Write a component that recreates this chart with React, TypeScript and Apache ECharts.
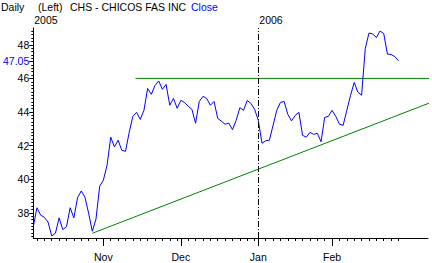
import React, { useEffect, useRef } from "react";
import * as echarts from "echarts";

// Daily closes, Oct 5 2005 .. Feb 24 2006 (trading-day index 0..99)
const closes = [
  37.17, 38.3, 37.86, 37.73, 37.45, 36.62, 36.78, 37.7, 37.0, 37.17,
  38.3, 37.7, 38.9, 39.3, 38.93, 37.98, 36.9, 37.63, 39.58, 39.94,
  40.83, 42.5, 41.92, 42.32, 41.72, 41.66, 42.79, 43.74, 43.98, 43.56,
  44.1, 45.4, 45.05, 45.58, 45.85, 45.35, 45.64, 44.4, 44.81, 44.22,
  44.69, 44.57, 44.34, 44.16, 43.33, 44.63, 44.93, 44.81, 44.4, 44.63,
  43.62, 43.45, 43.27, 43.34, 42.95, 43.5, 44.26, 44.1, 44.69, 44.51,
  44.16, 43.5, 42.14, 42.29, 42.32, 43.2, 44.1, 44.57, 44.63, 43.86,
  43.47, 43.8, 43.98, 42.61, 42.5, 42.79, 42.67, 42.73, 42.23, 43.68,
  43.74, 44.1, 43.74, 43.27, 43.21, 44.1, 44.99, 45.76, 45.17, 45.0,
  47.78, 48.7, 48.65, 48.43, 48.82, 48.67, 47.45, 47.42, 47.3, 47.05,
];

// month starts (trading-day index) and their labels
const monthIdx = [19, 40, 61, 81];
const monthLabels = ["Nov", "Dec", "Jan", "Feb"];
// year labels
const yearIdx = [0, 61];
const yearLabels = ["2005", "2006"];
// y tick labels
const yTicks = [38, 40, 42, 44, 46, 48];
// trend lines (index, price)
const supportX = [16, 108.5];
const supportY = [36.78, 44.63];
const resistX = [27.7, 108.5];
const resistY = [46, 46];
// year divider
const dividerIdx = 61;

const FONT = "Liberation Sans";
const FS = 10.5;
const TFS = 10.5;

export default function App() {
  const ref = useRef<HTMLDivElement>(null);
  useEffect(() => {
    if (!ref.current) return;
    const chart = echarts.init(ref.current, null, { renderer: "svg" });
    const lastIdx = closes.length - 1;
    const last = closes[lastIdx];

    const minorX: number[] = [];
    for (let i = monthIdx[0] - 2; i >= 0; i -= 2) minorX.push(i);
    monthIdx.forEach((m, k) => {
      const next = k + 1 < monthIdx.length ? monthIdx[k + 1] : lastIdx + 1;
      for (let i = m + 2; i < next; i += 2) minorX.push(i);
    });
    const minorY: number[] = [];
    for (let v = 36.6; v < 49; v += 0.2) minorY.push(Math.round(v * 10) / 10);

    const xMin = 0;
    const xMax = 107;
    const yMin = 36.5;
    const yMax = 49;
    const black = "#000";

    chart.setOption({
      animation: false,
      backgroundColor: "#fff",
      textStyle: { fontFamily: FONT },
      grid: { left: 30, right: 4, top: 28, bottom: 25 },
      xAxis: [
        {
          type: "value",
          min: xMin,
          max: xMax,
          position: "bottom",
          axisLine: { show: true, onZero: false, lineStyle: { color: black, width: 1 } },
          axisTick: { show: true, customValues: monthIdx, length: 8, lineStyle: { color: black } },
          axisLabel: {
            show: true,
            customValues: monthIdx,
            formatter: (v: number) => monthLabels[monthIdx.indexOf(Math.round(v))] ?? "",
            color: black,
            fontFamily: FONT,
            fontSize: FS,
            margin: 13,
          },
          splitLine: { show: false },
        },
        {
          type: "value",
          min: xMin,
          max: xMax,
          position: "bottom",
          axisLine: { show: false, onZero: false },
          axisTick: { show: true, customValues: minorX, length: 3, lineStyle: { color: black } },
          axisLabel: { show: false },
          splitLine: { show: false },
        },
        {
          type: "value",
          min: xMin,
          max: xMax,
          position: "top",
          axisLine: { show: false, onZero: false },
          axisTick: { show: false },
          axisLabel: {
            show: true,
            customValues: yearIdx,
            formatter: (v: number) => yearLabels[yearIdx.indexOf(Math.round(v))] ?? "",
            color: black,
            fontFamily: FONT,
            fontSize: FS,
            align: "left",
            margin: 3,
            padding: [0, 0, 0, 1],
          },
          splitLine: { show: false },
        },
      ],
      yAxis: [
        {
          type: "value",
          min: yMin,
          max: yMax,
          position: "left",
          axisLine: { show: true, onZero: false, lineStyle: { color: black, width: 1 } },
          axisTick: { show: true, customValues: yTicks, length: 4, lineStyle: { color: black } },
          axisLabel: {
            show: true,
            customValues: yTicks,
            color: black,
            fontFamily: FONT,
            fontSize: FS,
            margin: 4,
          },
          splitLine: { show: false },
        },
        {
          type: "value",
          min: yMin,
          max: yMax,
          position: "left",
          axisLine: { show: false, onZero: false },
          axisTick: { show: true, customValues: minorY, length: 2, lineStyle: { color: black } },
          axisLabel: { show: false },
          splitLine: { show: false },
        },
        {
          type: "value",
          min: yMin,
          max: yMax,
          position: "left",
          axisLine: { show: false, onZero: false },
          axisTick: { show: true, customValues: [last], length: 4, lineStyle: { color: black } },
          axisLabel: {
            show: true,
            customValues: [last],
            formatter: (v: number) => v.toFixed(2),
            color: "#0000ff",
            fontFamily: FONT,
            fontSize: FS,
            margin: 4,
          },
          splitLine: { show: false },
        },
      ],
      series: [
        {
          type: "line",
          xAxisIndex: 0,
          yAxisIndex: 0,
          data: closes.map((v, i) => [i, v]),
          showSymbol: false,
          symbol: "none",
          lineStyle: { color: "#0000ff", width: 1 },
          silent: true,
          z: 3,
          markLine: {
            silent: true,
            symbol: ["none", "none"],
            label: { show: false },
            lineStyle: { color: black, width: 1, type: [6, 2, 1, 2] },
            data: [{ xAxis: dividerIdx }],
          },
        },
        {
          type: "line",
          xAxisIndex: 0,
          yAxisIndex: 0,
          data: supportX.map((x, i) => [x, supportY[i]]),
          showSymbol: false,
          symbol: "none",
          clip: false,
          lineStyle: { color: "#008000", width: 1 },
          silent: true,
          z: 2,
        },
        {
          type: "line",
          xAxisIndex: 0,
          yAxisIndex: 0,
          data: resistX.map((x, i) => [x, resistY[i]]),
          showSymbol: false,
          symbol: "none",
          clip: false,
          lineStyle: { color: "#008000", width: 1 },
          silent: true,
          z: 2,
        },
      ],
      graphic: [
        { type: "text", left: 1, top: 1, style: { text: "Daily", font: `${TFS}px "${FONT}"`, fill: black } },
        { type: "text", left: 38, top: 1, style: { text: "(Left)", font: `${TFS}px "${FONT}"`, fill: black } },
        { type: "text", left: 70, top: 1, style: { text: "CHS - CHICOS FAS INC", font: `${TFS}px "${FONT}"`, fill: black } },
        { type: "text", left: 191, top: 1, style: { text: "Close", font: `${TFS}px "${FONT}"`, fill: "#0000ff" } },
      ],
    });
    return () => chart.dispose();
  }, []);
  return (
    <div
      ref={ref}
      style={{ position: "absolute", left: 0, top: 0, width: 432, height: 263, background: "#fff" }}
    />
  );
}
